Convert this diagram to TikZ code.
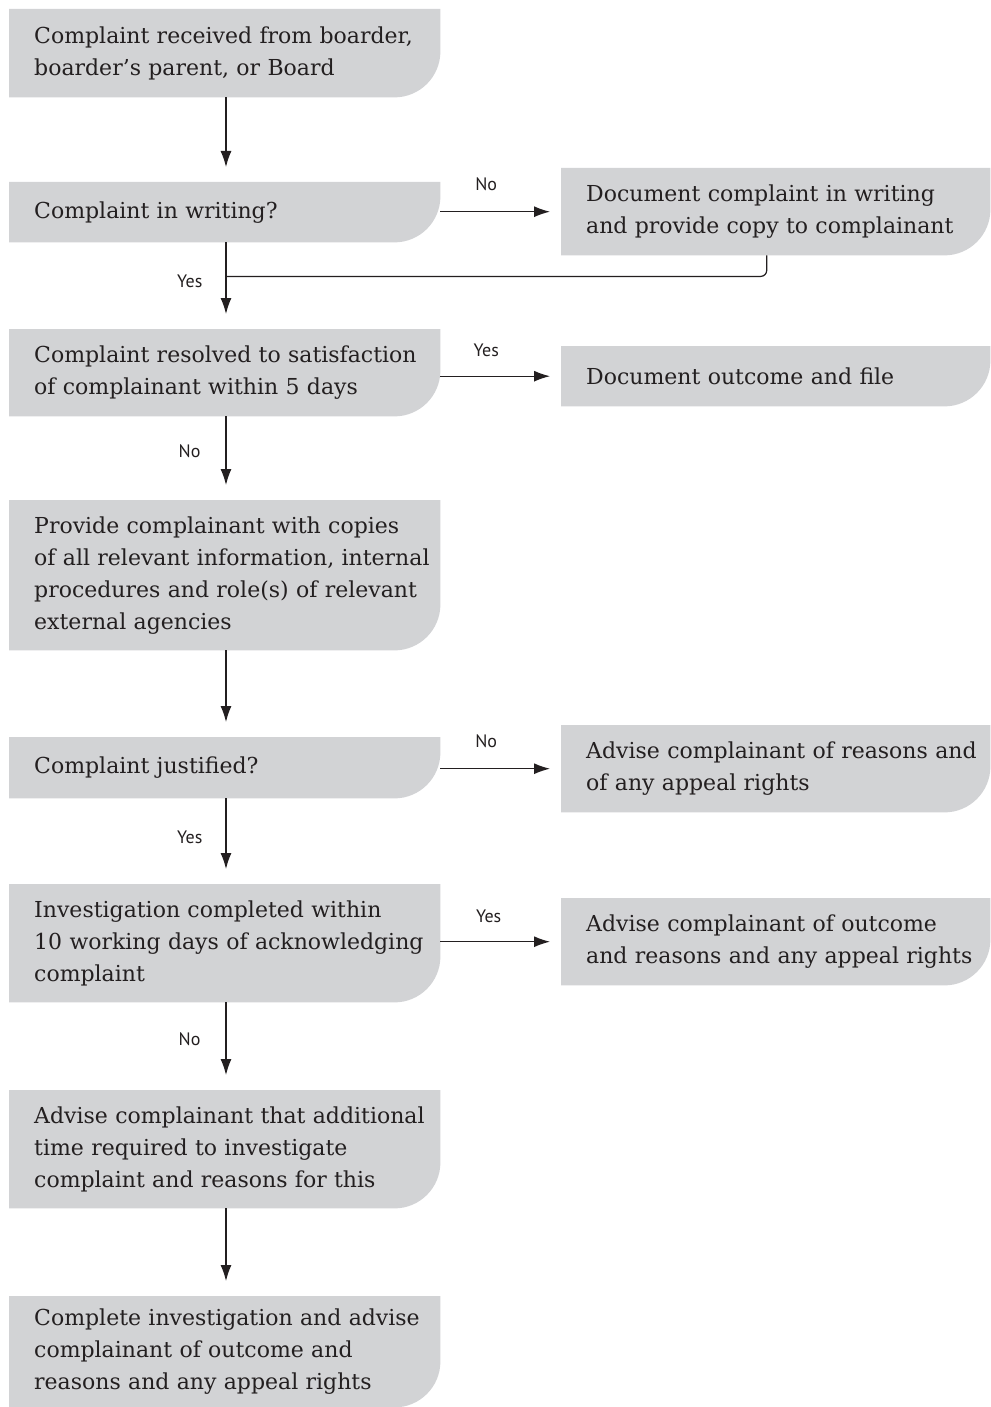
\documentclass[tikz,border=0pt]{standalone}
\usepackage{fontspec}
\setmainfont{DejaVu Serif}
\newfontfamily\answerfont{PT Sans}
\usepackage{xcolor}
\usepackage{tikz}
\usetikzlibrary{arrows.meta,backgrounds}
\definecolor{Ink}{HTML}{231F20}
\definecolor{BoxFill}{HTML}{D2D3D5}

\tikzset{
  stage/.style={anchor=north west,inner sep=0pt,text width=#1,align=left,text=Ink,
    font=\fontsize{22}{32}\selectfont,execute at begin node={\leftskip=25pt\relax}},
  stage/.default=431pt,
  flow/.style={Ink,line width=1.2pt,-{Latex[length=16pt,width=11pt]},shorten >=15pt},
  side/.style={Ink,line width=1.2pt,-{Latex[length=16pt,width=11pt]},shorten >=11pt},
  answer/.style={font=\answerfont\fontsize{18}{20}\selectfont,text=Ink,inner sep=0pt}
}

\begin{document}
\begin{tikzpicture}[x=1pt,y=-1pt]
  \useasboundingbox (0,0) rectangle (990,1407);
  % main column
  \node[stage,minimum height=88pt] (recv) at (9,9) {Complaint received from boarder,\\ boarder's parent, or Board};
  \node[stage,minimum height=60pt] (written) at (9,182) {Complaint in writing?};
  \node[stage,minimum height=87pt] (resolved) at (9,329) {Complaint resolved to satisfaction\\ of complainant within 5 days};
  \node[stage,minimum height=150pt] (copies) at (9,500) {Provide complainant with copies\\ of all relevant information, internal\\ procedures and role(s) of relevant\\ external agencies};
  \node[stage,minimum height=61pt] (justified) at (9,737) {Complaint justified?};
  \node[stage,minimum height=118pt] (inquiry) at (9,884) {Investigation completed within\\ 10 working days of acknowledging\\ complaint};
  \node[stage,minimum height=118pt] (extend) at (9,1090) {Advise complainant that additional\\ time required to investigate\\ complaint and reasons for this};
  \node[stage,minimum height=111pt] (finish) at (9,1296) {Complete investigation and advise\\ complainant of outcome and\\ reasons and any appeal rights};
  % side column
  \node[stage=429pt,minimum height=87pt] (record) at (561,168) {Document complaint in writing\\ and provide copy to complainant};
  \node[stage=429pt,minimum height=60pt] (filed) at (561,346) {Document outcome and file};
  \node[stage=429pt,minimum height=87pt] (reasons) at (561,725) {Advise complainant of reasons and\\ of any appeal rights};
  \node[stage=429pt,minimum height=87pt] (outcome) at (561,898) {Advise complainant of outcome\\ and reasons and any appeal rights};

  \begin{scope}[on background layer]
    \foreach \n in {recv,written,resolved,copies,justified,inquiry,extend,finish,record,filed,reasons,outcome}
      \fill[BoxFill] (\n.north west) -- (\n.north east) [rounded corners=46pt] -- (\n.south east) [sharp corners] -- (\n.south west) -- cycle;
  \end{scope}

  \coordinate (spine) at (226,0);
  \draw[flow] (recv.south -| spine) -- (written.north -| spine);
  \draw[flow] (written.south -| spine) -- node[answer,left=23pt,pos=0.45] {Yes} (resolved.north -| spine);
  \draw[flow] (resolved.south -| spine) -- node[answer,left=25pt,pos=0.42] {No} (copies.north -| spine);
  \draw[flow] (copies.south -| spine) -- (justified.north -| spine);
  \draw[flow] (justified.south -| spine) -- node[answer,left=23pt,pos=0.45] {Yes} (inquiry.north -| spine);
  \draw[flow] (inquiry.south -| spine) -- node[answer,left=25pt,pos=0.42] {No} (extend.north -| spine);
  \draw[flow] (extend.south -| spine) -- (finish.north -| spine);
  \draw[Ink,line width=1.2pt,rounded corners=6pt] ([xshift=-9pt]record.south) |- ([yshift=-34pt]written.south -| spine);

  \draw[side] (written.east |- record.west) -- node[answer,above=20pt,pos=0.38] {No} (record.west);
  \draw[side] (resolved.east |- filed.west) -- node[answer,above=19pt,pos=0.38] {Yes} (filed.west);
  \draw[side] (justified.east |- reasons.west) -- node[answer,above=20pt,pos=0.38] {No} (reasons.west);
  \draw[side] (inquiry.east |- outcome.west) -- node[answer,above=18pt,pos=0.4] {Yes} (outcome.west);
\end{tikzpicture}
\end{document}
